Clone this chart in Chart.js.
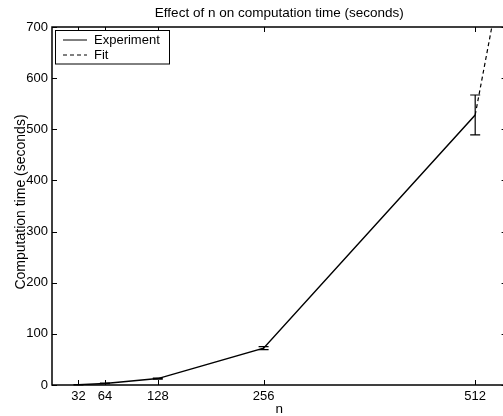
<!DOCTYPE html>
<html>
<head>
<meta charset="utf-8">
<script src="https://cdn.jsdelivr.net/npm/chart.js@4"></script>
<style>
	html, body { margin: 0; padding: 0; background: #fff; overflow: hidden; }
	#wrap { width: 503px; height: 416px; overflow: hidden; }
</style>
</head>
<body>
<div id="wrap"><canvas id="timeChart" width="515" height="416"></canvas></div>
<script>
// values
var nValues = [32, 64, 128, 256, 512];
var timeValues = [0.5, 3, 12.5, 72, 528];
var timeErr = [0.2, 0.5, 1, 3, 39];
var fitN = [512, 550];
var fitTime = [528, 853];
var xTicks = [32, 64, 128, 256, 512];

var titleText = 'Effect of n on computation time (seconds)';
var xLabel = 'n';
var yLabel = 'Computation time (seconds)';
var fontName = '"Liberation Sans", Arial, sans-serif';

function points(xs, ys) {
	return xs.map(function (x, i) { return { x: x, y: ys[i] }; });
}

// box, inward ticks, error bars, legend and texts in matlab style
var matlabLook = {
	id: 'matlabLook',
	afterDatasetsDraw: function (chart) {
		var ctx = chart.ctx;
		var a = chart.chartArea;
		var xs = chart.scales.x;
		var ys = chart.scales.y;
		ctx.save();
		ctx.strokeStyle = '#000';
		ctx.lineWidth = 1.2;

		// error bars
		nValues.forEach(function (n, i) {
			var px = xs.getPixelForValue(n);
			var top = ys.getPixelForValue(timeValues[i] + timeErr[i]);
			var bot = ys.getPixelForValue(timeValues[i] - timeErr[i]);
			ctx.beginPath();
			ctx.moveTo(px, top); ctx.lineTo(px, bot);
			ctx.moveTo(px - 5, top); ctx.lineTo(px + 5, top);
			ctx.moveTo(px - 5, bot); ctx.lineTo(px + 5, bot);
			ctx.stroke();
		});

		// box
		ctx.lineWidth = 1.5;
		ctx.strokeRect(a.left, a.top, a.right - a.left, a.bottom - a.top);

		// inward ticks
		ctx.lineWidth = 1;
		ctx.beginPath();
		xs.ticks.forEach(function (t) {
			var px = Math.round(xs.getPixelForValue(t.value)) + 0.5;
			ctx.moveTo(px, a.bottom); ctx.lineTo(px, a.bottom - 5);
			ctx.moveTo(px, a.top); ctx.lineTo(px, a.top + 5);
		});
		ys.ticks.forEach(function (t) {
			var py = Math.round(ys.getPixelForValue(t.value)) + 0.5;
			ctx.moveTo(a.left, py); ctx.lineTo(a.left + 5, py);
			ctx.moveTo(a.right, py); ctx.lineTo(a.right - 5, py);
		});
		ctx.stroke();

		// legend
		ctx.fillStyle = '#fff';
		ctx.fillRect(55.5, 30.5, 114, 33.5);
		ctx.strokeRect(55.5, 30.5, 114, 33.5);
		ctx.font = '13px ' + fontName;
		ctx.fillStyle = '#000';
		ctx.textBaseline = 'middle';
		ctx.textAlign = 'left';
		chart.data.datasets.forEach(function (ds, i) {
			var y = 40 + i * 15;
			ctx.setLineDash(ds.borderDash || []);
			ctx.beginPath();
			ctx.moveTo(63, y); ctx.lineTo(87, y);
			ctx.stroke();
			ctx.setLineDash([]);
			ctx.fillText(ds.label, 94, y);
		});

		// title and axis labels
		var cx = (a.left + a.right) / 2;
		ctx.textAlign = 'center';
		ctx.textBaseline = 'alphabetic';
		ctx.font = '13.5px ' + fontName;
		ctx.fillText(titleText, cx, 17);
		ctx.fillText(xLabel, cx, 413);
		ctx.font = '14px ' + fontName;
		ctx.translate(25, (a.top + a.bottom) / 2 - 4);
		ctx.rotate(-Math.PI / 2);
		ctx.fillText(yLabel, 0, 0);
		ctx.restore();
	}
};

var timeChart = new Chart(document.getElementById('timeChart'), {
	type: 'scatter',
	data: {
		datasets: [
			{
				label: 'Experiment',
				data: points(nValues, timeValues),
				showLine: true,
				borderColor: '#000',
				borderWidth: 1.5,
				pointRadius: 0,
			},
			{
				label: 'Fit',
				data: points(fitN, fitTime),
				showLine: true,
				borderColor: '#000',
				borderWidth: 1.2,
				borderDash: [4, 3],
				pointRadius: 0,
			},
		],
	},
	options: {
		responsive: false,
		animation: false,
		layout: { padding: { top: 27, right: 8.4, left: 0, bottom: 0 } },
		plugins: {
			legend: { display: false },
			title: { display: false },
			tooltip: { enabled: false },
		},
		scales: {
			x: {
				type: 'linear',
				min: 0,
				max: 550,
				grid: { display: false, drawTicks: false },
				border: { display: false },
				ticks: { color: '#000', padding: 4, font: { size: 13, family: fontName }, maxRotation: 0 },
				afterBuildTicks: function (scale) {
					scale.ticks = xTicks.map(function (v) { return { value: v }; });
				},
				afterFit: function (scale) { scale.height = 31; },
			},
			y: {
				min: 0,
				max: 700,
				grid: { display: false, drawTicks: false },
				border: { display: false },
				ticks: { color: '#000', padding: 4, stepSize: 100, font: { size: 13, family: fontName } },
				afterFit: function (scale) { scale.width = 52; },
			},
		},
	},
	plugins: [matlabLook],
});
</script>
</body>
</html>
